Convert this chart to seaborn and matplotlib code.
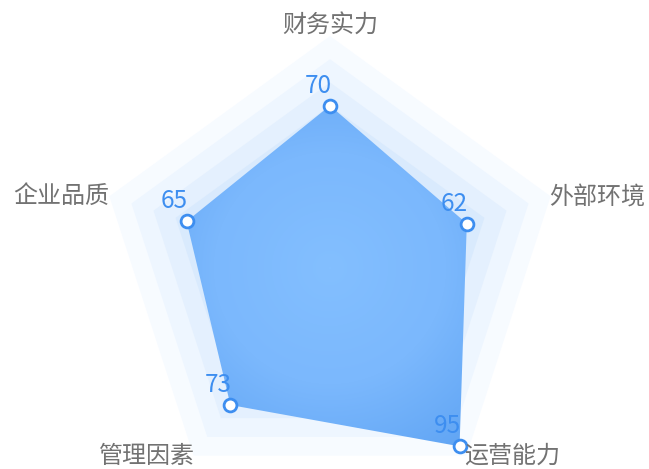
import numpy as np
import pandas as pd
import matplotlib
matplotlib.use("Agg")
import matplotlib.pyplot as plt
from matplotlib.patches import Polygon
from matplotlib.colors import LinearSegmentedColormap
import seaborn as sns

# ---- data ----
categories = ["财务实力", "外部环境", "运营能力", "管理因素", "企业品质"]
values = [70, 62, 95, 73, 65]
max_value = 100
split_levels = [100, 90, 80, 70, 60, 50, 40, 30, 20, 10]
band_colors = ["#f7fbff", "#eef6ff", "#e4f0fe", "#d9eafd", "#cfe4fc",
               "#c6dffb", "#bddafa", "#b4d5fa", "#abd0f9", "#a2cbf8"]

sns.set_theme(style="white")
plt.rcParams['font.family'] = ['Noto Sans CJK SC', 'DejaVu Sans']

W, H = 649, 469
fig = plt.figure(figsize=(W / 100, H / 100), dpi=100)
ax = fig.add_axes([0, 0, 1, 1])
ax.set_xlim(0, W)
ax.set_ylim(H, 0)
ax.axis("off")

cx, cy, R = 330.0, 268.0, 232.0
n = len(categories)
angles = np.deg2rad(90 - 72 * np.arange(n))


def to_xy(v):
    r = R * np.asarray(v, dtype=float) / max_value
    return cx + r * np.cos(angles), cy - r * np.sin(angles)


# background bands
for lvl, col in zip(split_levels, band_colors):
    bx, by = to_xy([lvl] * n)
    ax.add_patch(Polygon(np.column_stack([bx, by]), closed=True,
                         facecolor=col, edgecolor="none", zorder=1))

# data polygon with radial gradient fill
px, py = to_xy(values)
poly = Polygon(np.column_stack([px, py]), closed=True, facecolor="none",
               edgecolor="none", zorder=2)
ax.add_patch(poly)
gx, gy = np.meshgrid(np.arange(W) + 0.5, np.arange(H) + 0.5)
dist = np.hypot(gx - cx, gy - cy) / R
cmap = LinearSegmentedColormap.from_list("g", ["#83bfff", "#7bb8fd", "#5ea3f3"])
img = ax.imshow(np.clip(dist, 0, 1), cmap=cmap, vmin=0, vmax=1,
                extent=(0, W, H, 0), origin="upper", zorder=2,
                interpolation="bilinear")
img.set_clip_path(poly)

# markers
df = pd.DataFrame({"x": px, "y": py, "cat": categories, "val": values})
sns.scatterplot(data=df, x="x", y="y", ax=ax, s=85, color="white",
                edgecolor="#3d8ef0", linewidth=2, zorder=4, legend=False)
ax.set_xlim(0, W)
ax.set_ylim(H, 0)
ax.axis("off")

# value labels
for x, y, v in zip(px, py, values):
    ax.annotate(str(v), (x, y), xytext=(1, 5), textcoords="offset points",
                ha="right", va="bottom", fontsize=17.5, color="#3d8ef0",
                zorder=5)

# category names
nx, ny = to_xy([max_value] * n)
for x, y, a, name in zip(nx, ny, angles, categories):
    c = np.cos(a)
    if abs(c) < 0.1:
        ha, va, y = "center", "bottom", y + 3
    elif c > 0:
        ha, va, x = "left", "center", x - 2
    else:
        ha, va = "right", "center"
    ax.text(x, y, name, ha=ha, va=va, fontsize=17.3, color="#727272", zorder=5)

fig.savefig("out.png", dpi=100)
